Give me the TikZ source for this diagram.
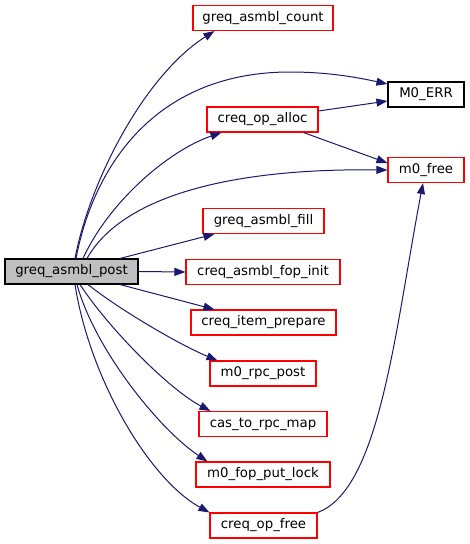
\documentclass[tikz,border=0pt]{standalone}
\usepackage{fontspec}
\setmainfont{DejaVu Sans}
\usetikzlibrary{arrows.meta}
\definecolor{edgeblue}{HTML}{191970}
\definecolor{rootgray}{HTML}{BFBFBF}
\definecolor{boxred}{HTML}{FF0000}
\tikzset{
  fn/.style={draw=boxred, line width=1.1pt, minimum height=25pt, inner sep=0pt, font=\fontsize{13.3}{16}\selectfont, text=black},
  blk/.style={fn, draw=black},
  rootbox/.style={fn, draw=black, fill=rootgray},
  call/.style={draw=edgeblue, line width=1pt, -{Triangle[length=11pt,width=8pt]}, fill=none},
}
\begin{document}
\begin{tikzpicture}[x=1pt,y=-1pt]
\useasboundingbox (0,0) rectangle (469,544);
\node[rootbox, minimum width=133pt] (root) at (71.5,271.5) {greq\_asmbl\_post};
\node[fn, minimum width=140pt] (cnt) at (263,18) {greq\_asmbl\_count};
\node[blk, minimum width=76pt] (err) at (426,94.5) {M0\_ERR};
\node[fn, minimum width=111pt] (alloc) at (262.5,119.5) {creq\_op\_alloc};
\node[fn, minimum width=76pt] (free) at (426,170) {m0\_free};
\node[fn, minimum width=121pt] (fill) at (263.5,221) {greq\_asmbl\_fill};
\node[fn, minimum width=154pt] (fop) at (263,272) {creq\_asmbl\_fop\_init};
\node[fn, minimum width=145pt] (item) at (263.5,322.5) {creq\_item\_prepare};
\node[fn, minimum width=106pt] (rpc) at (263,373.5) {m0\_rpc\_post};
\node[fn, minimum width=128pt] (cas) at (263,424) {cas\_to\_rpc\_map};
\node[fn, minimum width=134pt] (lock) at (263,474.5) {m0\_fop\_put\_lock};
\node[fn, minimum width=107pt] (opfree) at (263.5,525.5) {creq\_op\_free};

% upward edges
\draw[call] ([xshift=3.5]root.north) .. controls (90,180) and (145,75) .. ([xshift=22]cnt.south west);
\draw[call] ([xshift=4.5]root.north) .. controls (95,160) and (160,72) .. (290,72) .. controls (330,72) and (360,78) .. ([yshift=10.5]err.west);
\draw[call] ([xshift=11.5]root.north) .. controls (110,200) and (170,150) .. ([xshift=15]alloc.south west);
\draw[call] ([xshift=15.5]root.north) .. controls (120,200) and (220,168) .. (free.west);
\draw[call] ([xshift=48.5]root.north) -- ([xshift=12]fill.south west);
\draw[call] (root.east) -- (fop.west);
% downward edges
\draw[call] ([xshift=48.5]root.south) -- ([xshift=24]item.north west);
\draw[call] ([xshift=16.5]root.south) .. controls (120,310) and (180,345) .. ([xshift=8]rpc.north west);
\draw[call] ([xshift=8.5]root.south) .. controls (110,330) and (170,390) .. ([xshift=12]cas.north west);
\draw[call] ([xshift=5.5]root.south) .. controls (95,350) and (160,430) .. ([xshift=12]lock.north west);
\draw[call] ([xshift=3.5]root.south) .. controls (90,380) and (150,480) .. (opfree.north west);
% secondary edges
\draw[call] ([yshift=8.5]alloc.east) -- ([yshift=-6.5]err.west);
\draw[call] ([xshift=-15]alloc.south east) -- ([yshift=7]free.west);
\draw[call] (opfree.north east) .. controls (380,490) and (395,330) .. ([xshift=-3]free.south);
\end{tikzpicture}
\end{document}
